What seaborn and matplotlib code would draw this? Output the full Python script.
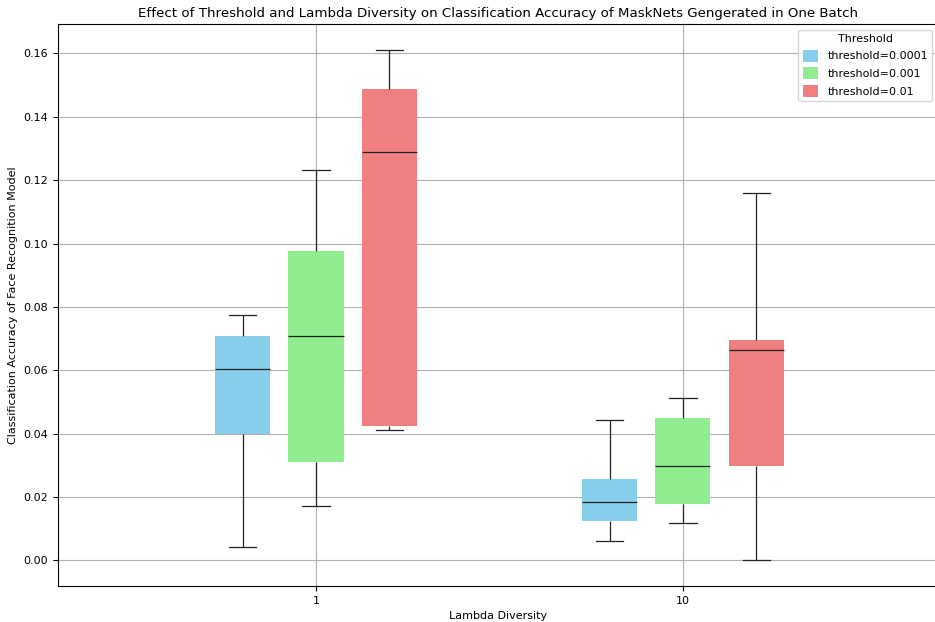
import matplotlib
matplotlib.use("Agg")
import matplotlib.pyplot as plt
import seaborn as sns
import pandas as pd

# Lambda diversity groups and threshold settings
lambda_labels = ["1", "10"]
threshold_labels = ["threshold=0.0001", "threshold=0.001", "threshold=0.01"]
palette_colors = ["#87CEEB", "#90EE90", "#F08080"]

# Accuracy samples per (lambda, threshold): min, q1, median, q3, max
acc_l1_t0001 = [0.0043, 0.0400, 0.0605, 0.0707, 0.0774]
acc_l1_t001 = [0.0171, 0.0311, 0.0709, 0.0977, 0.1233]
acc_l1_t01 = [0.0412, 0.0423, 0.1288, 0.1487, 0.1612]
acc_l10_t0001 = [0.0060, 0.0126, 0.0185, 0.0258, 0.0444]
acc_l10_t001 = [0.0117, 0.0177, 0.0298, 0.0451, 0.0511]
acc_l10_t01 = [0.0000, 0.0297, 0.0664, 0.0697, 0.1160]

groups = [
    ("1", threshold_labels[0], acc_l1_t0001),
    ("1", threshold_labels[1], acc_l1_t001),
    ("1", threshold_labels[2], acc_l1_t01),
    ("10", threshold_labels[0], acc_l10_t0001),
    ("10", threshold_labels[1], acc_l10_t001),
    ("10", threshold_labels[2], acc_l10_t01),
]
rows = [
    {"Lambda Diversity": lam, "Threshold": thr, "Accuracy": v}
    for lam, thr, vals in groups
    for v in vals
]
df = pd.DataFrame(rows)

plt.rcParams.update({
    "font.size": 8,
    "axes.labelsize": 8,
    "xtick.labelsize": 8,
    "ytick.labelsize": 8,
    "legend.fontsize": 8,
    "legend.title_fontsize": 8,
    "axes.linewidth": 0.8,
})

fig = plt.figure(figsize=(9.35, 6.22), dpi=100)
ax = fig.add_axes([58 / 935, 36 / 622, 880 / 935, 562 / 622])
ax.set_axisbelow(True)

sns.boxplot(
    data=df, x="Lambda Diversity", y="Accuracy", hue="Threshold",
    order=lambda_labels, hue_order=threshold_labels,
    palette=palette_colors, saturation=1, width=0.6, gap=0.25, whis=(0, 100),
    linewidth=0.9, linecolor="#222222", fliersize=0,
    boxprops={"edgecolor": "none"},
    medianprops={"color": "#222222", "linewidth": 0.9},
    whiskerprops={"color": "#222222"}, capprops={"color": "#222222"},
    ax=ax,
)

# Grid on both axes, drawn beneath the boxes
ax.grid(True, axis="both", color="#b0b0b0", linewidth=0.8)

ax.set_xlim(-0.703, 1.695)
ax.set_xlabel("Lambda Diversity")
ax.set_ylabel("Classification Accuracy of Face Recognition Model")
ax.set_title("Effect of Threshold and Lambda Diversity on Classification Accuracy "
             "of MaskNets Gengerated in One Batch", fontsize=9.6, pad=5)
ax.legend(title="Threshold", loc="upper right", handlelength=1.4, handleheight=1.3)

fig.savefig("out.png", dpi=100)
